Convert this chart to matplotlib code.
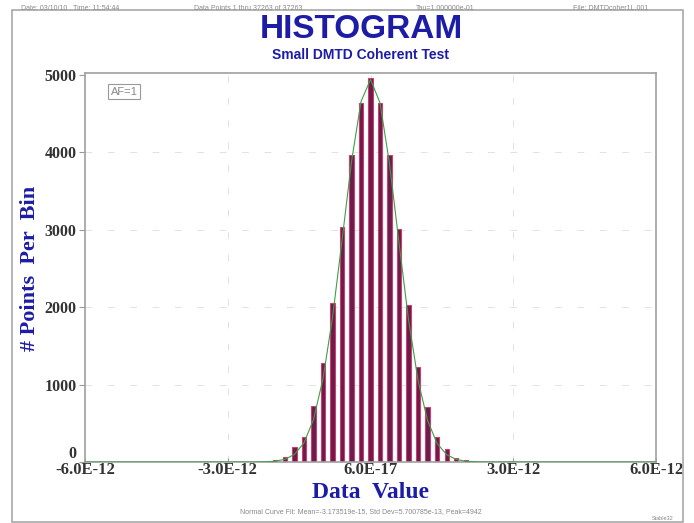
import numpy as np
import matplotlib
matplotlib.use("Agg")
import matplotlib.pyplot as plt
from matplotlib.patches import Rectangle

# ---------------- Data ----------------
bin_width = 2.0e-13
bin_index = list(range(-11, 12))
counts = [5, 20, 65, 190, 320, 720, 1280, 2050, 3040, 3960, 4640, 4960,
          4640, 3960, 3010, 2030, 1230, 710, 320, 170, 55, 20, 5]

# normal curve fit parameters (as printed under the plot)
fit_mean = -3.173519e-15
fit_std = 5.700785e-13
fit_peak = 4942

x_ticks = [-6.0e-12, -3.0e-12, 6.0e-17, 3.0e-12, 6.0e-12]
x_tick_labels = ["-6.0E-12", "-3.0E-12", "6.0E-17", "3.0E-12", "6.0E-12"]
y_ticks = [0, 1000, 2000, 3000, 4000, 5000]

blue = "#1c1ca6"
serif = ["Liberation Serif", "DejaVu Serif"]
sans = ["Liberation Sans", "DejaVu Sans"]

centers = np.array(bin_index) * bin_width

# ---------------- Figure ----------------
fig = plt.figure(figsize=(6.94, 5.23), dpi=100)
ax = fig.add_axes([0.1225, 0.1166, 0.8228, 0.7438])

# faint dashed grid
for yv in y_ticks[1:-1]:
    ax.axhline(yv, color="#e2e2e2", lw=0.7, dashes=(7, 16), zorder=0)
for xv in x_ticks[1:-1]:
    ax.axvline(xv, color="#e2e2e2", lw=0.7, dashes=(7, 16), zorder=0)

ax.bar(centers, counts, width=0.9e-13, color="#6a1d4c",
       edgecolor="#d23c6c", linewidth=0.8, zorder=2)

# fitted normal curve
xs = np.arange(-30, 31) * bin_width
ys = fit_peak * np.exp(-0.5 * ((xs - fit_mean) / fit_std) ** 2)
ax.plot(xs, ys, color="#3aa04a", lw=0.8, zorder=3)

ax.set_xlim(-6.0e-12, 6.0e-12)
ax.set_ylim(0, 5025)
ax.set_xticks(x_ticks)
ax.set_xticklabels(x_tick_labels, fontfamily=serif, fontweight="bold",
                   fontsize=12, color="#333333")
ax.set_yticks(y_ticks)
ax.set_yticklabels([str(v) for v in y_ticks], fontfamily=serif,
                   fontweight="bold", fontsize=11.5, color="#333333")
ax.get_yticklabels()[0].set_va("bottom")
ax.tick_params(axis="y", direction="out", length=4, width=0.8,
               color="#999999", pad=2)
ax.tick_params(axis="x", direction="in", length=3, width=0.8,
               color="#999999", pad=0)
for s in ax.spines.values():
    s.set_color("#a0a0a0")
    s.set_linewidth(1.2)

# axis titles
fig.text(370 / 694, 1 - 492 / 523, "Data  Value", fontfamily=serif,
         fontweight="bold", fontsize=17, color=blue, ha="center", va="center")
fig.text(30 / 694, 1 - 268 / 523, "# Points  Per  Bin", fontfamily=serif,
         fontweight="bold", fontsize=16, color=blue, ha="center",
         va="center", rotation=90)

ax.text(0.045, 0.965, "AF=1", transform=ax.transAxes, fontsize=8,
        fontfamily=sans, color="#888888", va="top", ha="left",
        bbox=dict(boxstyle="square,pad=0.2", fc="white", ec="#999999", lw=0.8))

# titles
fig.text(0.52, 0.943, "HISTOGRAM", fontfamily=sans, fontweight="bold",
         fontsize=24, color=blue, ha="center", va="center")
fig.text(0.52, 0.895, "Small DMTD Coherent Test", fontfamily=sans,
         fontweight="bold", fontsize=10, color=blue, ha="center", va="center")

# header line
hdr = dict(fontfamily=sans, fontsize=5, color="#888888", va="center")
fig.text(0.03, 0.983, "Date: 03/10/10   Time: 11:54:44", **hdr)
fig.text(0.28, 0.983, "Data Points 1 thru 37263 of 37263", **hdr)
fig.text(0.60, 0.983, "Tau=1.000000e-01", **hdr)
fig.text(0.825, 0.983, "File: DMTDcoher1L.001", **hdr)

fig.text(0.52, 0.022,
         "Normal Curve Fit: Mean=%.6e, Std Dev=%.6e, Peak=%d"
         % (fit_mean, fit_std, fit_peak),
         fontfamily=sans, fontsize=5, color="#888888", ha="center", va="center")
fig.text(0.955, 0.008, "Stable32", fontfamily=sans, fontsize=4,
         color="#888888", ha="center", va="center")

# outer border
fig.patches.append(Rectangle((0.0175, 0.002), 0.966, 0.979,
                             transform=fig.transFigure, fill=False,
                             ec="#a8a8a8", lw=1.2))

fig.savefig("out.png", dpi=100)
